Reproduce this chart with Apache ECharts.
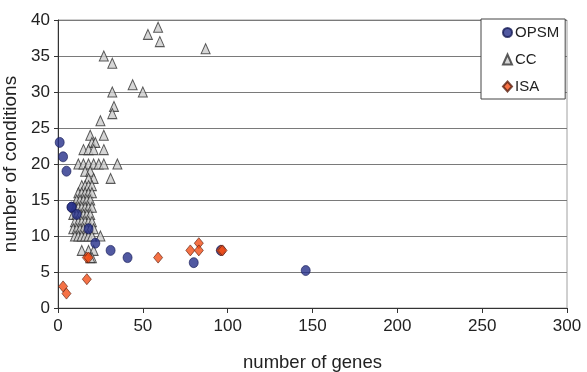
<!DOCTYPE html>
<html>
<head>
<meta charset="utf-8">
<script src="https://cdn.jsdelivr.net/npm/echarts@6/dist/echarts.min.js"></script>
<style>html,body{margin:0;padding:0;background:#fff}#c{width:587px;height:372px}</style>
</head>
<body>
<div id="c"></div>
<script>
var xTicks = [0, 50, 100, 150, 200, 250, 300];
var yTicks = [0, 5, 10, 15, 20, 25, 30, 35, 40];
var seriesNames = ['OPSM', 'CC', 'ISA'];

var opsmGenes = [1, 3, 5, 8, 8, 11, 18, 22, 31, 41, 80, 96, 146];
var opsmConds = [23, 21, 19, 14, 14, 13, 11, 9, 8, 7, 6.3, 8, 5.2];

var ccGenes = [53, 59, 60, 87, 27, 32, 44, 50, 32, 33, 32, 25, 19, 27, 20, 22, 15, 18, 21, 27,
  12, 15, 18, 21, 24, 27, 35, 16, 19, 21, 31, 18,
  14, 16, 18, 20, 12, 14, 16, 18, 20, 11, 13, 15, 17, 19,
  10, 12, 14, 16, 18, 20, 9, 11, 13, 15, 17, 19,
  10, 12, 14, 16, 18, 20, 9, 11, 13, 15, 17, 19, 21,
  10, 12, 14, 16, 18, 20, 25, 14, 18, 21, 20, 19];
var ccConds = [38, 39, 37, 36, 35, 34, 31, 30, 30, 28, 27, 26, 24, 24, 23, 23, 22, 22, 22, 22,
  20, 20, 20, 20, 20, 20, 20, 19, 19, 18, 18, 18,
  17, 17, 17, 17, 16, 16, 16, 16, 16, 15, 15, 15, 15, 15,
  14, 14, 14, 14, 14, 14, 13, 13, 13, 13, 13, 13,
  12, 12, 12, 12, 12, 12, 11, 11, 11, 11, 11, 11, 11,
  10, 10, 10, 10, 10, 10, 10, 8, 8, 8, 7, 7];

var isaGenes = [3, 5, 17, 17, 18, 59, 78, 83, 83, 96, 97];
var isaConds = [3, 2, 4, 7, 7, 7, 8, 9, 8, 8, 8];

function zip(a, b) { return a.map(function (v, i) { return [v, b[i]]; }); }

var chart = echarts.init(document.getElementById('c'), null, { renderer: 'canvas' });
var font = 'Liberation Sans, Arial, sans-serif';
chart.setOption({
  animation: false,
  textStyle: { fontFamily: font },
  grid: { left: 58, right: 20, top: 20, bottom: 64, containLabel: false, outerBoundsMode: 'none',
    show: true, borderColor: '#a0a0a0', borderWidth: 1 },
  legend: {
    orient: 'vertical', left: 481, top: 19, width: 70,
    padding: [6, 6, 5, 21],
    itemGap: 12, itemWidth: 9, itemHeight: 10,
    backgroundColor: '#fff', borderColor: '#444', borderWidth: 1,
    textStyle: { fontSize: 15, color: '#222', fontFamily: font, padding: [0, 0, 0, -2] },
    data: seriesNames
  },
  xAxis: {
    type: 'value', min: xTicks[0], max: xTicks[xTicks.length - 1], interval: 50,
    name: 'number of genes', nameLocation: 'middle', nameGap: 45,
    nameTextStyle: { fontSize: 18.5, color: '#222', fontFamily: font },
    axisLine: { show: true, lineStyle: { color: '#333', width: 1 } },
    axisTick: { show: true, length: 5, lineStyle: { color: '#333' } },
    axisLabel: { fontSize: 17, color: '#222', margin: 10, fontFamily: font },
    splitLine: { show: false }
  },
  yAxis: {
    type: 'value', min: yTicks[0], max: yTicks[yTicks.length - 1], interval: 5,
    name: 'number of conditions', nameLocation: 'middle', nameGap: 33, nameRotate: 90,
    nameTextStyle: { fontSize: 19, color: '#222', fontFamily: font },
    axisLine: { show: true, lineStyle: { color: '#333', width: 1 } },
    axisTick: { show: true, length: 4, lineStyle: { color: '#333' } },
    axisLabel: { fontSize: 17, color: '#222', margin: 8, fontFamily: font },
    splitLine: { show: true, lineStyle: { color: '#7a7a7a', width: 1 } }
  },
  series: [
    {
      name: seriesNames[0], type: 'scatter', symbol: 'circle', symbolSize: [9, 10],
      itemStyle: { color: '#25308a', borderColor: '#161b55', borderWidth: 0.8 },
      data: zip(opsmGenes, opsmConds), z: 3
    },
    {
      name: seriesNames[1], type: 'scatter', symbol: 'triangle', symbolSize: [9, 10],
      itemStyle: { color: '#cccccc', borderColor: '#333', borderWidth: 1 },
      data: zip(ccGenes, ccConds), z: 2
    },
    {
      name: seriesNames[2], type: 'scatter', symbol: 'diamond', symbolSize: [9, 11],
      itemStyle: { color: '#f24e16', borderColor: '#5a2010', borderWidth: 0.8 },
      data: zip(isaGenes, isaConds), z: 4
    }
  ]
});
</script>
</body>
</html>
